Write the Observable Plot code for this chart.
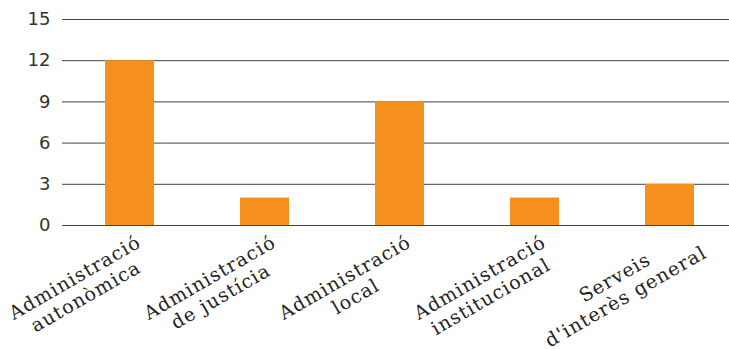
<!DOCTYPE html>
<html>
<head>
<meta charset="utf-8">
<script src="https://cdn.jsdelivr.net/npm/d3@7"></script>
<script src="https://cdn.jsdelivr.net/npm/@observablehq/plot@0.6"></script>
<style>
  html, body { margin: 0; padding: 0; background: #fff; }
  #chart svg { display: block; }
</style>
</head>
<body>
<div id="chart"></div>
<script>
const categories = [
  "Administració\nautonòmica",
  "Administració\nde justícia",
  "Administració\nlocal",
  "Administració\ninstitucional",
  "Serveis\nd'interès general"
];
const values = [12, 2, 9, 2, 3];
const yTicks = [0, 3, 6, 9, 12, 15];

const data = categories.map((c, i) => ({category: c, value: values[i]}));

const chart = Plot.plot({
  width: 729,
  height: 349,
  marginTop: 19,
  marginBottom: 124,
  marginLeft: 62,
  marginRight: 0,
  style: {fontFamily: "DejaVu Sans", fontSize: "18px", color: "#333", background: "#fff"},
  x: {domain: categories, range: [62, 737], paddingInner: 0.637, paddingOuter: 0.3185, axis: null},
  y: {domain: [0, 15], ticks: yTicks, tickSize: 0, tickPadding: 12, label: null, tickFormat: d => String(d)},
  marks: [
    Plot.ruleY(yTicks, {stroke: "#444", strokeWidth: 1}),
    Plot.barY(data, {x: "category", y: "value", fill: "#F5901F"}),
    Plot.text(data, {
      x: "category",
      frameAnchor: "bottom",
      text: "category",
      rotate: -30,
      textAnchor: "middle",
      lineAnchor: "middle",
      lineHeight: 1.15,
      dx: -50,
      dy: 61,
      fontSize: 19,
      fontFamily: "'DejaVu Serif', serif",
      fill: "#222"
    })
  ]
});
d3.select(chart).selectAll("text")
  .filter(function () { return (this.getAttribute("transform") || "").includes("rotate"); })
  .style("letter-spacing", "1.1px");
document.getElementById("chart").appendChild(chart);
</script>
</body>
</html>
